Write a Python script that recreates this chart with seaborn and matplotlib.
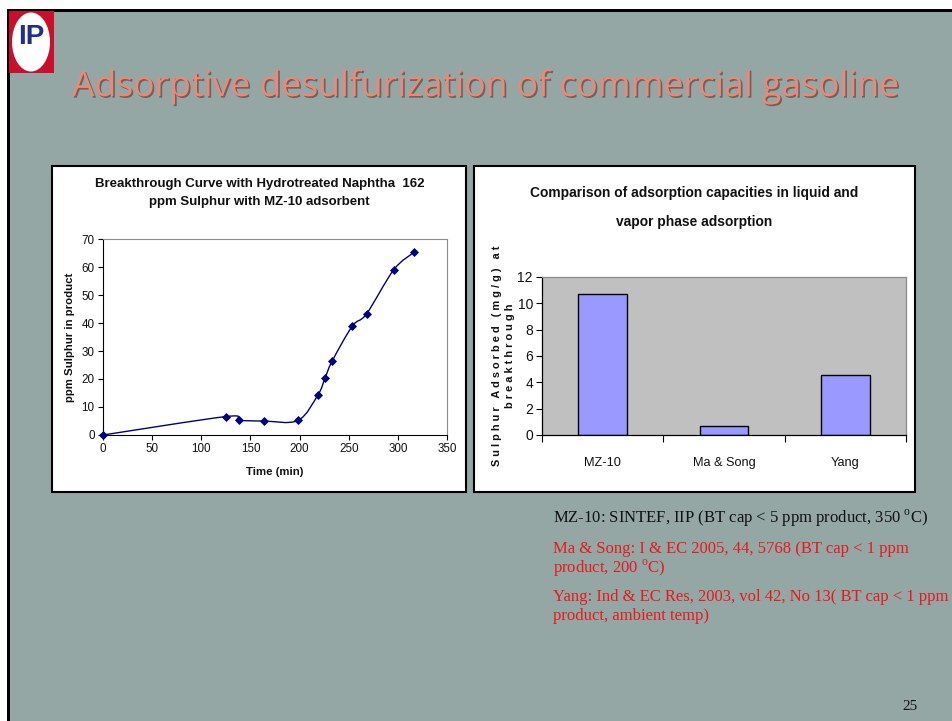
import numpy as np
import matplotlib
matplotlib.use("Agg")
import matplotlib.pyplot as plt
import matplotlib.patheffects as pe
from matplotlib.patches import Rectangle, Ellipse, PathPatch
from matplotlib.path import Path
from matplotlib.ticker import FixedLocator
import seaborn as sns

# Breakthrough curve (left chart)
time_min = [0, 125.5, 138, 163.5, 198.4, 218.8, 225.9, 233, 253.7, 268.2, 296, 316.7]
sulphur_ppm = [0, 6.6, 5.3, 5.0, 5.2, 14.4, 20.3, 26.3, 38.9, 43.3, 59.1, 65.3]
time_ticks = [0, 50, 100, 150, 200, 250, 300, 350]
ppm_ticks = [0, 10, 20, 30, 40, 50, 60, 70]

# Adsorption capacities (right chart)
adsorbents = ["MZ-10", "Ma & Song", "Yang"]
capacity_mg_g = [10.7, 0.68, 4.55]
capacity_ticks = [0, 2, 4, 6, 8, 10, 12]

# Reference notes under the bar chart
notes = [
    (r"MZ-10: SINTEF, IIP (BT cap < 5 ppm product, 350 $^{\mathrm{o}}$C)", "#111111"),
    ("Ma & Song: I & EC 2005, 44, 5768 (BT cap < 1 ppm", "#E8191E"),
    (r"product, 200 $^{\mathrm{o}}$C)", "#E8191E"),
    ("Yang: Ind & EC Res, 2003, vol 42, No 13( BT cap < 1 ppm", "#E8191E"),
    ("product, ambient temp)", "#E8191E"),
]

sns.set_theme(style="white")
plt.rcParams["font.family"] = ["Liberation Sans", "DejaVu Sans"]
plt.rcParams["mathtext.fontset"] = "custom"
plt.rcParams["mathtext.rm"] = "Liberation Serif"

W, H = 952, 721
fig = plt.figure(figsize=(W / 100, H / 100), dpi=100, facecolor="white")


def box(x0, y0, x1, y1):
    return [x0 / W, 1 - y1 / H, (x1 - x0) / W, (y1 - y0) / H]


def ftext(x, y, s, **kw):
    return fig.text(x / W, 1 - y / H, s, **kw)


def frect(x0, y0, x1, y1, **kw):
    r = Rectangle((x0 / W, 1 - y1 / H), (x1 - x0) / W, (y1 - y0) / H,
                  transform=fig.transFigure, **kw)
    fig.patches.append(r)
    return r


# slide background and frame
SLIDE = "#94A7A4"
frect(10, 12, W, H, facecolor=SLIDE, edgecolor="none", zorder=0)
frect(7, 9, 10, H, facecolor="black", edgecolor="none", zorder=0)
frect(7, 9, W, 12, facecolor="black", edgecolor="none", zorder=0)

# logo
frect(9, 11, 54, 73, facecolor="#C8102E", edgecolor="none", zorder=1)
logo = Ellipse((31 / W, 1 - 42 / H), 38 / W, 59 / H,
               transform=fig.transFigure, facecolor="white", edgecolor="none", zorder=2)
fig.patches.append(logo)
ftext(31, 37, "IP", fontsize=20, fontweight="bold", color="#1F2F8A",
      ha="center", va="center", zorder=3)

# slide title
ftext(72, 96, "Adsorptive desulfurization of commercial gasoline",
      fontsize=25.6, family=["Open Sans", "DejaVu Sans"], color="#E8897A",
      ha="left", va="baseline",
      path_effects=[pe.withSimplePatchShadow(offset=(1.2, -1.2),
                                             shadow_rgbFace="#6E5A55", alpha=0.9)])

# chart frames
frect(52, 166, 466, 492, facecolor="white", edgecolor="black", linewidth=1.5, zorder=1)
frect(474, 166, 915, 492, facecolor="white", edgecolor="black", linewidth=1.5, zorder=1)

# ---------------- left chart: breakthrough curve ----------------
ax1 = fig.add_axes(box(103, 239, 447, 435))
ax1.set_zorder(5)
ax1.set_facecolor("white")
ax1.set_xlim(0, 350)
ax1.set_ylim(0, 70)

# smoothed line through the points (cubic Bezier segments, computed in pixel space)
sx, sy = 344 / 350, 196 / 70
px = np.array(time_min) * sx
py = np.array(sulphur_ppm) * sy
n = len(px)
verts = [(time_min[0], sulphur_ppm[0])]
codes = [Path.MOVETO]
for i in range(n - 1):
    i0, i2 = max(i - 1, 0), min(i + 2, n - 1)
    c1 = (px[i] + (px[i + 1] - px[i0]) / 6, py[i] + (py[i + 1] - py[i0]) / 6)
    c2 = (px[i + 1] - (px[i2] - px[i]) / 6, py[i + 1] - (py[i2] - py[i]) / 6)
    verts += [(c1[0] / sx, c1[1] / sy), (c2[0] / sx, c2[1] / sy),
              (time_min[i + 1], sulphur_ppm[i + 1])]
    codes += [Path.CURVE4] * 3
ax1.add_patch(PathPatch(Path(verts, codes), facecolor="none",
                        edgecolor="#000080", linewidth=1.0, zorder=2))
sns.scatterplot(x=time_min, y=sulphur_ppm, marker="D", s=16, color="#000080",
                edgecolor="#000080", linewidth=0.6, ax=ax1, zorder=3, clip_on=False)

ax1.set_xticks(time_ticks)
ax1.set_yticks(ppm_ticks)
ax1.tick_params(axis="both", which="major", direction="out", length=3.5, width=0.8,
                color="black", labelsize=8.4, pad=2.5, labelcolor="#111111",
                bottom=True, left=True)
for side in ("top", "right"):
    ax1.spines[side].set_color("#8C8C8C")
    ax1.spines[side].set_linewidth(0.8)
for side in ("left", "bottom"):
    ax1.spines[side].set_color("black")
    ax1.spines[side].set_linewidth(0.8)
ax1.grid(False)
ax1.set_xlabel("Time (min)", fontsize=8.2, fontweight="bold", color="#111111")
ax1.set_ylabel("ppm Sulphur in product", fontsize=8.2, fontweight="bold", color="#111111")
ax1.xaxis.set_label_coords(0.5, (435 - 472) / 196)
ax1.xaxis.label.set_va("center")
ax1.yaxis.set_label_coords((70 - 103) / 344, 0.5)
ax1.yaxis.label.set_va("center")

ftext(259.5, 193, "Breakthrough Curve with Hydrotreated Naphtha  162\nppm Sulphur with MZ-10 adsorbent",
      fontsize=9.5, fontweight="bold", color="#111111", ha="center", va="center",
      linespacing=1.75, multialignment="center")

for y, lab, val, vx in [(274, "Temp:", "350 oC", 240), (288, "Pressure:", "3 bar", 240),
                        (304, "WHSV :", "8hr-1", 244)]:
    ftext(184, y, lab, fontsize=8.2, color="#111111", ha="left", va="center")
    ftext(vx, y, val, fontsize=8.2, color="#111111", ha="left", va="center")

# ---------------- right chart: capacity comparison ----------------
ax2 = fig.add_axes(box(542, 277, 906, 435))
ax2.set_zorder(5)
ax2.set_facecolor("#C0C0C0")
sns.barplot(x=adsorbents, y=capacity_mg_g, color="#9999FF", saturation=1, width=0.4,
            edgecolor="black", linewidth=1.0, ax=ax2, zorder=2)
ax2.set_xlim(-0.5, 2.5)
ax2.set_ylim(0, 12)
ax2.set_yticks(capacity_ticks)
ax2.xaxis.set_minor_locator(FixedLocator([-0.5, 0.5, 1.5, 2.5]))
ax2.tick_params(axis="x", which="major", length=0, pad=16, labelsize=9.2, labelcolor="#111111")
ax2.tick_params(axis="x", which="minor", direction="out", length=5, width=0.8,
                color="black", bottom=True)
ax2.tick_params(axis="y", which="major", direction="out", length=4, width=0.8,
                color="black", left=True, pad=2.5, labelsize=10, labelcolor="#111111")
for side in ("top", "right"):
    ax2.spines[side].set_color("#8C8C8C")
    ax2.spines[side].set_linewidth(0.9)
for side in ("left", "bottom"):
    ax2.spines[side].set_color("black")
    ax2.spines[side].set_linewidth(0.9)
ax2.grid(False)
ax2.set_xlabel("")
ax2.set_ylabel("")

ftext(694.5, 207.5, "Comparison of adsorption capacities in liquid and\nvapor phase adsorption",
      fontsize=9.9, fontweight="bold", color="#111111",
      ha="center", va="center", linespacing=2.45, multialignment="center")
ftext(503.5, 356, "S u l p h u r   A d s o r b e d   ( m g / g )   a t\nb r e a k t h r o u g h",
      fontsize=7.9, fontweight="bold", color="#111111", rotation=90,
      ha="center", va="center", linespacing=1.35, multialignment="center")

# ---------------- notes and page number ----------------
SERIF = ["Liberation Serif", "DejaVu Serif"]
for (txt, col), y in zip(notes, [518, 549, 568, 597, 616]):
    ftext(553, y, txt, fontsize=12, family=SERIF, color=col, ha="left", va="center")
ftext(910, 707, "25", fontsize=11, family=SERIF, color="#111111", ha="center", va="center")

fig.savefig("out.png", dpi=100, facecolor="white")
